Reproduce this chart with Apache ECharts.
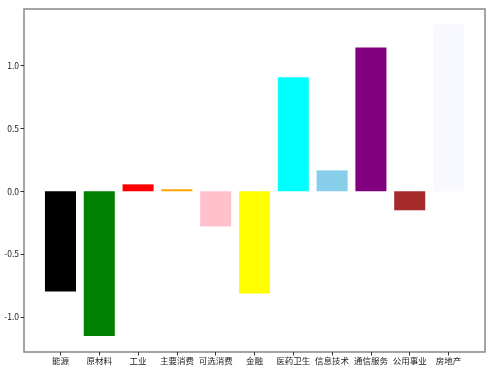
<!DOCTYPE html>
<html><head><meta charset="utf-8">
<script src="https://cdn.jsdelivr.net/npm/echarts@6/dist/echarts.min.js"></script>
<style>html,body{margin:0;padding:0;background:#fff}#c{width:500px;height:375px}</style>
</head><body><div id="c"></div>
<script>
const categories = ['能源','原材料','工业','主要消费','可选消费','金融','医药卫生','信息技术','通信服务','公用事业','房地产'];
const values = [-0.795, -1.149, 0.055, 0.016, -0.28, -0.811, 0.906, 0.166, 1.141, -0.151, 1.326];
const colors = ['black','green','red','orange','pink','yellow','cyan','skyblue','purple','brown','ghostwhite'];
const yTicks = [-1.0, -0.5, 0.0, 0.5, 1.0];

const chart = echarts.init(document.getElementById('c'), null, {renderer:'canvas'});
const font = "'Noto Sans CJK SC', sans-serif";
const axisCol = '#888888';
chart.setOption({
  animation: false,
  grid: {left: 24, right: 15, top: 9, bottom: 23, show: true, borderColor: axisCol, borderWidth: 1.5, backgroundColor: '#fff'},
  xAxis: {
    type: 'value', min: -0.94, max: 10.94,
    splitLine: {show: false},
    axisLine: {show: false, onZero: false},
    axisTick: {show: true, customValues: categories.map((c,i)=>i), length: 3.5, lineStyle: {color: '#333'}},
    axisLabel: {customValues: categories.map((c,i)=>i), formatter: v => categories[Math.round(v)], fontFamily: font, fontSize: 8.5, color: '#222', margin: 5}
  },
  yAxis: {
    type: 'value', min: -1.276, max: 1.447,
    splitLine: {show: false},
    axisLine: {show: false, onZero: false},
    axisTick: {show: true, customValues: yTicks, length: 3.5, lineStyle: {color: '#333'}},
    axisLabel: {customValues: yTicks, formatter: v => v.toFixed(1), fontFamily: font, fontSize: 8.5, color: '#222', margin: 5}
  },
  series: [{
    type: 'bar',
    barWidth: '80%',
    data: values.map((v,i)=>({value: [i, v], itemStyle: {color: colors[i]}}))
  }]
});
</script></body></html>
